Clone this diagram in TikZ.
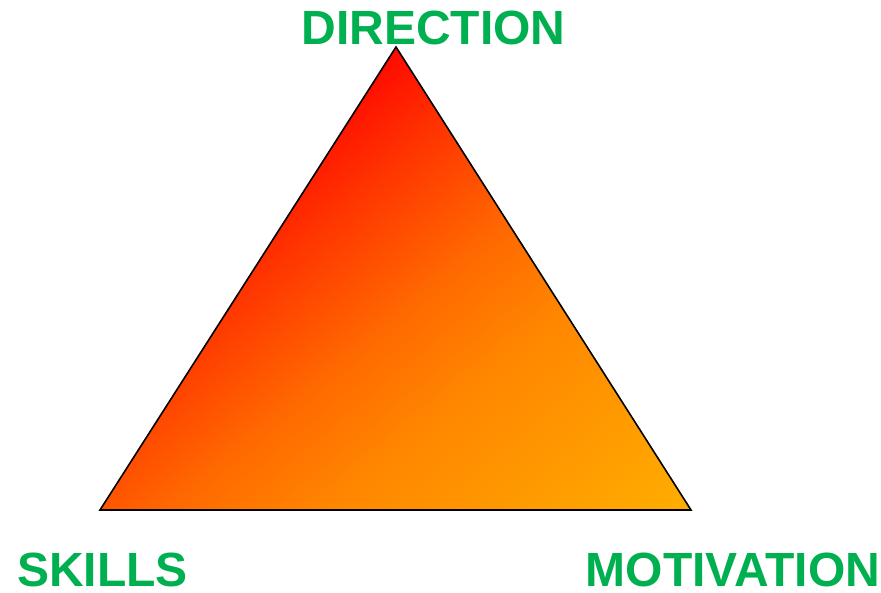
\documentclass[tikz,border=0pt]{standalone}
\usepackage{fontspec}
\setmainfont{Liberation Sans}
\definecolor{lblgreen}{RGB}{0,176,80}
\definecolor{gA}{RGB}{255,0,0}
\definecolor{gB}{RGB}{255,55,0}
\definecolor{gC}{RGB}{255,105,0}
\definecolor{gD}{RGB}{255,135,0}
\definecolor{gE}{RGB}{255,192,0}
\pgfdeclarehorizontalshading{trishade}{100bp}{color(0bp)=(gA); color(31bp)=(gA); color(42bp)=(gB); color(53bp)=(gC); color(63bp)=(gD); color(96bp)=(gE); color(100bp)=(gE)}
\tikzset{
  lbl/.style={anchor=base, inner sep=0pt, text depth=0pt, text=lblgreen, font=\fontsize{48}{48}\selectfont\bfseries},
}
\begin{document}
\begin{tikzpicture}[x=1pt,y=1pt]
\useasboundingbox (0,0) rectangle (881,593);
\coordinate (T) at (396,546);
\coordinate (L) at (100,83);
\coordinate (R) at (691,83);
\shade[shading=trishade, shading angle=-50] (T) -- (L) -- (R) -- cycle;
\draw[line width=1.6pt, line join=miter] (T) -- (L) -- (R) -- cycle;
\node[lbl] (direction) at (433.5,548) {DIRECTION};
\node[lbl] (skills) at (102.5,6) {SKILLS};
\node[lbl] (motivation) at (733,6) {MOTIVATION};
\end{tikzpicture}
\end{document}
